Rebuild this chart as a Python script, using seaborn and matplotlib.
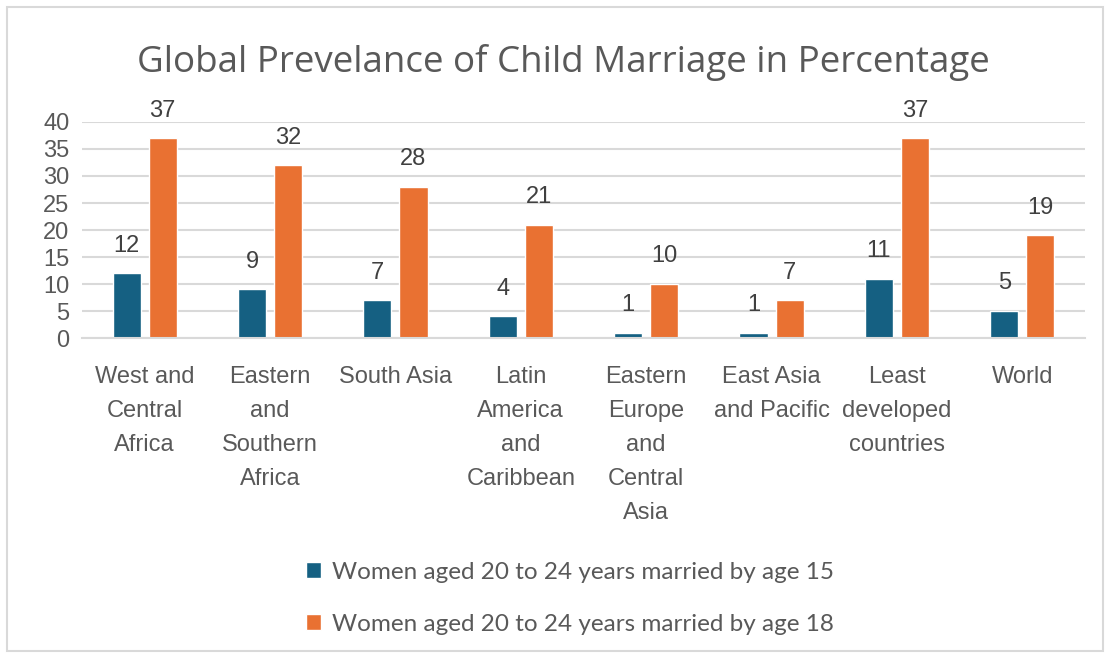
import matplotlib
matplotlib.use("Agg")
import matplotlib.pyplot as plt
import seaborn as sns
import pandas as pd
from matplotlib.patches import Rectangle

categories = ["West and\nCentral\nAfrica", "Eastern\nand\nSouthern\nAfrica", "South Asia",
              "Latin\nAmerica\nand\nCaribbean", "Eastern\nEurope\nand\nCentral\nAsia",
              "East Asia\nand Pacific", "Least\ndeveloped\ncountries", "World"]
married_by_15 = [12, 9, 7, 4, 1, 1, 11, 5]
married_by_18 = [37, 32, 28, 21, 10, 7, 37, 19]
series_names = ["Women aged 20 to 24 years married by age 15",
                "Women aged 20 to 24 years married by age 18"]
colors = ["#156082", "#E97132"]

df = pd.DataFrame({
    "category": categories * 2,
    "value": married_by_15 + married_by_18,
    "series": [series_names[0]] * len(categories) + [series_names[1]] * len(categories),
})

sns.set_theme(style="white")
plt.rcParams['font.family'] = ['Liberation Sans', 'DejaVu Sans']

fig = plt.figure(figsize=(11.11, 6.58), dpi=100)
ax = fig.add_axes([0.0738, 0.4863, 0.9028, 0.3283])

sns.barplot(data=df, x="category", y="value", hue="series", palette=colors,
            width=0.576, gap=0.222, ax=ax, legend=True, saturation=1)

ax.set_ylim(0, 40)
ax.set_xlim(-0.5, len(categories) - 0.5)
ax.set_yticks(range(0, 41, 5))
ax.yaxis.grid(True, color="#D9D9D9", linewidth=1.5)
ax.set_axisbelow(True)
for s in ["top", "right", "left"]:
    ax.spines[s].set_visible(False)
ax.spines["bottom"].set_color("#D9D9D9")
ax.spines["bottom"].set_linewidth(1.5)
ax.tick_params(axis="both", length=0, labelsize=17, colors="#595959")
ax.tick_params(axis="x", pad=20.5)
ax.tick_params(axis="y", pad=9)
for lbl in ax.get_xticklabels():
    lbl.set_linespacing(1.7)
    lbl.set_verticalalignment("top")
ax.set_xlabel("")
ax.set_ylabel("")

for cont in ax.containers:
    ax.bar_label(cont, fmt="%d", padding=12, fontsize=17, color="#404040")

handles, labels = ax.get_legend_handles_labels()
ax.get_legend().remove()
leg = fig.legend(handles, labels, loc="center", bbox_to_anchor=(0.513, 0.091),
                 ncol=1, frameon=False, labelspacing=1.28,
                 handlelength=0.6, handleheight=0.6, handletextpad=0.45,
                 prop={'family': ['Lato', 'DejaVu Sans'], 'size': 17.5})
for t in leg.get_texts():
    t.set_color("#595959")

fig.text(0.507, 0.905, "Global Prevelance of Child Marriage in Percentage",
         ha="center", va="center", fontsize=26.5, color="#595959",
         family=['Open Sans', 'DejaVu Sans'])

fig.patches.append(Rectangle((7 / 1111, 7 / 658), 1096 / 1111, 644 / 658,
                             transform=fig.transFigure, fill=False,
                             edgecolor="#D9D9D9", linewidth=1.5))

fig.savefig("out.png", dpi=100)
